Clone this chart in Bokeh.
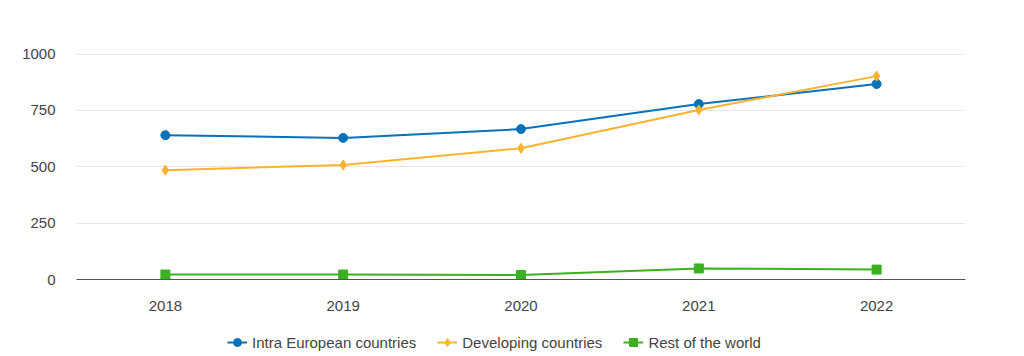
from bokeh.plotting import figure
from bokeh.models import Range1d, Legend, LegendItem, FactorRange
from bokeh.layouts import column
from bokeh.core.properties import value
from bokeh.embed import file_html
from bokeh.resources import INLINE

years = ["2018", "2019", "2020", "2021", "2022"]
intra_eu = [640, 628, 667, 778, 867]
developing = [485, 508, 582, 752, 902]
rest_world = [22, 22, 20, 49, 44]
series_names = ["Intra European countries", "Developing countries", "Rest of the world"]
y_ticks = [0, 250, 500, 750, 1000]
subtitle = "in € million"

FONT = "Liberation Sans"
c_blue = "#0a72b8"
c_orange = "#fbb32f"
c_green = "#3bb11f"
colors = [c_blue, c_orange, c_green]
markers = ["circle", "diamond", "square"]
msizes = [9, 10, 9]
series = [intra_eu, developing, rest_world]

L, R = 76, 59  # frame borders (pixels)

def strip(h):
    f = figure(width=1024, height=h, x_range=Range1d(L, 1024 - R), y_range=Range1d(0, h),
               output_backend="svg", toolbar_location=None,
               min_border_left=L, min_border_right=R, min_border_top=0, min_border_bottom=0)
    f.axis.visible = False
    f.grid.visible = False
    f.outline_line_color = None
    return f

# --- cropped subtitle strip at the very top ---
top = strip(5)
top.text(x=[494], y=[1.5], text=[subtitle], text_font=value(FONT), text_font_size="12px",
         text_color="#444444", text_align="center", text_baseline="alphabetic")

# --- main chart ---
p = figure(width=1024, height=309, x_range=FactorRange(*years, range_padding=0),
           y_range=Range1d(0, 1060), output_backend="svg", toolbar_location=None,
           min_border_left=L, min_border_right=R, min_border_top=35, min_border_bottom=35)
p.outline_line_color = None

p.yaxis.ticker = y_ticks
p.yaxis.axis_line_color = None
p.yaxis.major_tick_line_color = None
p.yaxis.minor_tick_line_color = None
p.yaxis.major_label_text_font = FONT
p.yaxis.major_label_text_font_size = "15px"
p.yaxis.major_label_text_color = "#444444"
p.yaxis.major_label_standoff = 15

p.xaxis.axis_line_color = "#555555"
p.xaxis.axis_line_width = 1
p.xaxis.major_tick_line_color = None
p.xaxis.minor_tick_line_color = None
p.xaxis.major_label_text_font = FONT
p.xaxis.major_label_text_font_size = "15px"
p.xaxis.major_label_text_color = "#444444"
p.xaxis.major_label_standoff = 15

p.xgrid.grid_line_color = None
p.ygrid.grid_line_color = "#e6e6e6"
p.ygrid.grid_line_width = 1

for vals, col, mk, ms in zip(series, colors, markers, msizes):
    p.line(years, vals, line_color=col, line_width=2)
    p.scatter(years, vals, marker=mk, size=ms, fill_color=col, line_color=col)

# --- legend strip ---
lg = strip(42)
items = []
for name, vals, col, mk, ms in zip(series_names, series, colors, markers, msizes):
    lr = lg.line(list(range(len(vals))), vals, line_color=col, line_width=2, visible=False)
    mr = lg.scatter(list(range(len(vals))), vals, marker=mk, size=ms - 1,
                    fill_color=col, line_color=col, visible=False)
    items.append(LegendItem(label=name, renderers=[lr, mr]))
legend = Legend(items=items, orientation="horizontal", location=(227 - L, 4),
                label_text_font=FONT, label_text_font_size="15px", label_text_color="#444444",
                border_line_color=None, background_fill_alpha=0, spacing=21,
                glyph_width=20, label_standoff=5, margin=0, padding=0,
                inactive_fill_alpha=0, click_policy="none")
lg.add_layout(legend, "center")

layout = column(top, p, lg, spacing=0)
open("out.html", "w").write(file_html(layout, INLINE))
